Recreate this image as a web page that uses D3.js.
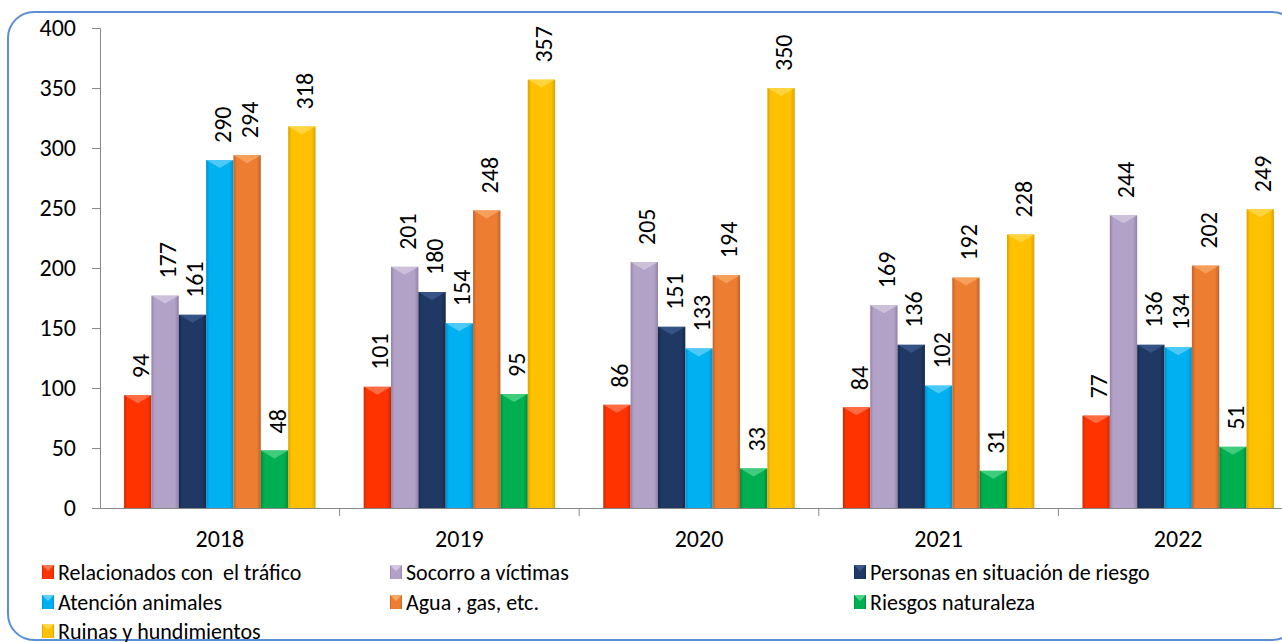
<!DOCTYPE html>
<html>
<head>
<meta charset="utf-8">
<script src="https://cdn.jsdelivr.net/npm/d3@7"></script>
<style>
  body { margin: 0; background: #fff; }
  svg { display: block; font-family: Carlito, Lato, "Open Sans", sans-serif; }
  text { white-space: pre; }
</style>
</head>
<body>
<svg id="chart"></svg>
<script>
const years = ["2018", "2019", "2020", "2021", "2022"];
const seriesNames = [
    "Relacionados con  el tráfico", "Socorro a víctimas", "Personas en situación de riesgo",
    "Atención animales", "Agua , gas, etc.", "Riesgos naturaleza", "Ruinas y hundimientos"
];
const trafico = [94, 101, 86, 84, 77];
const socorro = [177, 201, 205, 169, 244];
const personas = [161, 180, 151, 136, 136];
const animales = [290, 154, 133, 102, 134];
const agua = [294, 248, 194, 192, 202];
const naturaleza = [48, 95, 33, 31, 51];
const ruinas = [318, 357, 350, 228, 249];
const yTicks = [0, 50, 100, 150, 200, 250, 300, 350, 400];
// base, light, dark
const colors = [
    ["#ff3300", "#ff7a55", "#cc2900"],
    ["#b3a2c7", "#d3c8e0", "#9282a8"],
    ["#1f3864", "#3b5a8c", "#16294a"],
    ["#00b0f0", "#5fd0f8", "#0090c8"],
    ["#ed7d31", "#f7a865", "#c0622a"],
    ["#00b050", "#4fd488", "#008a3e"],
    ["#ffc000", "#ffd84d", "#d9a300"]
];

const allSeries = [trafico, socorro, personas, animales, agua, naturaleza, ruinas];

const width = 1282, height = 642;
const margin = { top: 28, left: 100, bottom: 134 };
const svg = d3.select("#chart").attr("width", width).attr("height", height);

// container border
svg.append("rect")
    .attr("x", 8).attr("y", 12)
    .attr("width", 1290).attr("height", 628)
    .attr("rx", 26)
    .attr("fill", "none")
    .attr("stroke", "#5b8ed6")
    .attr("stroke-width", 2);

const x = d3.scaleBand().domain(years).range([margin.left, 1298]);
const inner = d3.scaleBand().domain(d3.range(7))
    .range([0, x.bandwidth()]).paddingOuter(0.88);
const y = d3.scaleLinear().domain([0, 400]).range([height - margin.bottom, margin.top]);

const defs = svg.append("defs");
colors.forEach((c, i) => {
    const g = defs.append("linearGradient").attr("id", "g" + i)
        .attr("x1", 0).attr("x2", 1).attr("y1", 0).attr("y2", 0);
    g.append("stop").attr("offset", 0).attr("stop-color", c[2]);
    g.append("stop").attr("offset", 0.12).attr("stop-color", c[0]);
    g.append("stop").attr("offset", 0.85).attr("stop-color", c[0]);
    g.append("stop").attr("offset", 1).attr("stop-color", c[2]);
});

const bw = inner.bandwidth();

allSeries.forEach((vals, si) => {
    const g = svg.append("g");
    const data = vals.map((v, i) => ({ year: years[i], v }));
    g.selectAll("rect").data(data).join("rect")
        .attr("x", d => x(d.year) + inner(si))
        .attr("y", d => y(d.v))
        .attr("width", bw)
        .attr("height", d => y(0) - y(d.v))
        .attr("fill", `url(#g${si})`);
    // bevel highlight at the top
    g.selectAll("path").data(data).join("path")
        .attr("d", d => {
            const x0 = x(d.year) + inner(si), y0 = y(d.v);
            return `M${x0},${y0}L${x0 + bw},${y0}L${x0 + bw / 2},${y0 + 8}Z`;
        })
        .attr("fill", colors[si][1])
        .attr("opacity", 0.8);
    g.selectAll("text").data(data).join("text")
        .attr("transform", d => `translate(${x(d.year) + inner(si) + bw / 2 + 11},${y(d.v) - 17}) rotate(-90)`)
        .attr("font-size", 24)
        .attr("fill", "#000")
        .text(d => d.v);
});

// y axis
const yAxis = svg.append("g")
    .attr("transform", `translate(${margin.left},0)`)
    .call(d3.axisLeft(y).tickValues(yTicks).tickSize(8).tickPadding(16));
yAxis.selectAll("text").attr("font-size", 24).attr("fill", "#000").attr("font-family", "Carlito, Lato, sans-serif");
yAxis.selectAll("line,path").attr("stroke", "#888");

// x axis
const xAxis = svg.append("g")
    .attr("transform", `translate(0,${y(0)})`)
    .call(d3.axisBottom(x).tickSize(0).tickPadding(22));
xAxis.select("path").attr("stroke", "#888");
xAxis.selectAll("text").attr("font-size", 24).attr("fill", "#000").attr("font-family", "Carlito, Lato, sans-serif");
svg.append("g").selectAll("line")
    .data(years.slice(1))
    .join("line")
    .attr("x1", d => x(d)).attr("x2", d => x(d))
    .attr("y1", y(0)).attr("y2", y(0) + 8)
    .attr("stroke", "#888");

// legend
const legCols = [42, 390, 854];
const legRows = [572, 602, 631];
const leg = svg.append("g").selectAll("g").data(seriesNames).join("g")
    .attr("transform", (d, i) => `translate(${legCols[i % 3]},${legRows[Math.floor(i / 3)]})`);
leg.append("rect")
    .attr("x", 0).attr("y", -7).attr("width", 12).attr("height", 14)
    .attr("fill", (d, i) => `url(#g${i})`);
leg.append("path")
    .attr("d", "M0,-7L12,-7L6,-1Z")
    .attr("fill", (d, i) => colors[i][1]);
leg.append("text")
    .attr("x", 16).attr("y", 8)
    .attr("font-size", 22)
    .attr("fill", "#000")
    .text(d => d);
</script>
</body>
</html>
